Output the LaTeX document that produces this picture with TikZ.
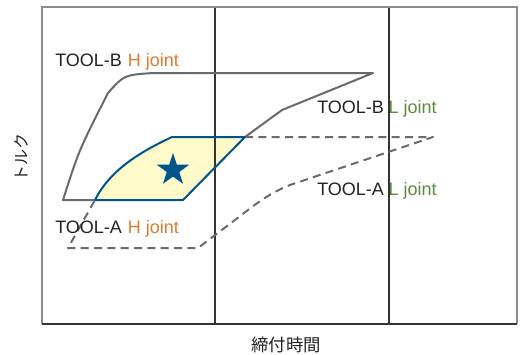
\documentclass[tikz,border=0pt]{standalone}
\usepackage{fontspec}
\setmainfont{Liberation Sans}
\newfontfamily\jpfont{Noto Sans CJK JP}
\usetikzlibrary{calc}
\definecolor{framegray}{HTML}{8C8C8C}
\definecolor{gridgray}{HTML}{333333}
\definecolor{curvegray}{HTML}{6A6A6A}
\definecolor{textgray}{HTML}{222222}
\definecolor{jointblue}{HTML}{00548C}
\definecolor{jointyellow}{HTML}{FDF9C9}
\definecolor{hjoint}{HTML}{E07A2E}
\definecolor{ljoint}{HTML}{5E8A3C}
\newcommand{\TorquePx}{0.75pt}
\newcommand{\StarOuter}{17}
\newcommand{\StarInner}{6.6}

\tikzset{
	tool/.style={draw=curvegray, line width=1.5pt, line join=round},
	tooldash/.style={tool, dash pattern=on 6pt off 4pt},
	label/.style={anchor=base west, inner sep=0pt, text=textgray, font=\fontsize{13.5}{16}\selectfont}
}

\begin{document}
\begin{tikzpicture}[x=\TorquePx, y=-\TorquePx]
		\useasboundingbox (0,0) rectangle (520,354);
		\coordinate (f1) at (42,7);
		\coordinate (f2) at (517,7);
		\coordinate (f3) at (517,324);
		\coordinate (f4) at (42,324);
		\coordinate (g1) at (215,7);
		\coordinate (g2) at (215,324);
		\coordinate (g3) at (389,7);
		\coordinate (g4) at (389,324);
		\coordinate (y1) at (95,200);
		\coordinate (y2) at (183,200);
		\coordinate (y3) at (245,137);
		\coordinate (y4) at (172,137);
		\coordinate (s1) at (173,170);
		\fill[jointyellow] (y1) -- (y2) -- (y3) -- (y4) .. controls (140,152) and (110,170) .. (y1);
		\draw[gridgray, line width=0.8pt] (g1) -- (g2) (g3) -- (g4);
		\draw[framegray, line width=1.2pt] (f4) -- (f1) -- (f2) -- (f3);
		\draw[gridgray, line width=1pt] (f4) -- (f3);
		\draw[tool] (y1) -- (63,200) .. controls (79,150) .. (108,93) .. controls (124,75) .. (153,73) -- (373,73) -- (282,110) -- (y3);
		\draw[tooldash] (y3) -- (433,137) -- (290,185) .. controls (270,193) and (258,202) .. (235,220) -- (198,248) -- (68,248) -- (y1);
		\draw[jointblue, line width=1.5pt, line join=round] (y1) -- (y2) -- (y3) -- (y4) .. controls (140,152) and (110,170) .. (y1);
		\fill[jointblue] (s1) ++(-90:\StarOuter)
			\foreach \k in {0,...,4} { -- ($(s1)+(-54+\k*72:\StarInner)$) -- ($(s1)+(-18+\k*72:\StarOuter)$) } -- cycle;
		\node[label] (t1) at (55,66) {TOOL-B\hspace{4.5pt}\textcolor{hjoint}{H joint}};
		\node[label] (t2) at (55,233) {TOOL-A\hspace{4.5pt}\textcolor{hjoint}{H joint}};
		\node[label] (t3) at (317,113) {TOOL-B\hspace{3.5pt}\textcolor{ljoint}{L joint}};
		\node[label] (t4) at (317,195) {TOOL-A\hspace{3.5pt}\textcolor{ljoint}{L joint}};
		\node[rotate=90, inner sep=0pt, text=textgray, font=\jpfont\fontsize{12}{14}\selectfont] (ax1) at (21,157) {トルク};
		\node[inner sep=0pt, text=textgray, font=\jpfont\fontsize{13}{15}\selectfont] (ax2) at (286,345) {締付時間};
	\end{tikzpicture}
\end{document}
